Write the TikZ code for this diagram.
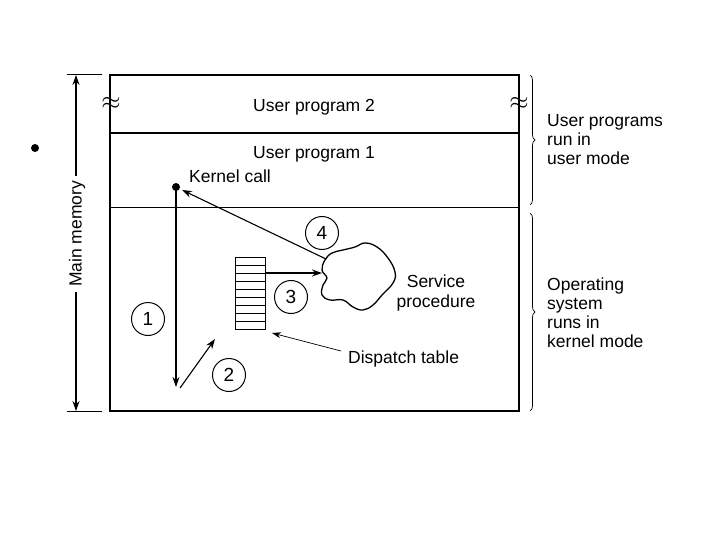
\documentclass[tikz,border=0pt]{standalone}
\usepackage{fontspec}
\setmainfont{Liberation Sans}
\usetikzlibrary{arrows.meta,decorations.pathreplacing}
\begin{document}
\begin{tikzpicture}[x=1pt,y=-1pt,
  lbl/.style={font=\fontsize{17.5}{19}\selectfont, inner sep=0pt},
  num/.style={circle, draw, line width=1pt, minimum size=33pt, inner sep=0pt, font=\fontsize{19}{20}\selectfont},
  ln/.style={line width=1pt},
  arr/.style={line width=1.1pt, -{Stealth[length=10pt,width=7pt]}},
  brc/.style={decorate, decoration={brace, amplitude=5pt}, line width=0.7pt}]
\useasboundingbox (0,0) rectangle (720,540);
% main box
\draw[line width=1.3pt] (110,75) rectangle (519,411);
\draw[line width=1.6pt] (110,133) -- (519,133);
\draw[line width=1pt] (110,208) -- (519,208);
\node[font=\fontsize{24}{24}\selectfont, inner sep=0pt] (wl) at (111,103) {$\approx$};
\node[font=\fontsize{24}{24}\selectfont, inner sep=0pt] (wr) at (519,103) {$\approx$};
% bullet
\fill (35,148) circle (4pt);
% main memory
\coordinate (mt) at (76,75);
\coordinate (mb) at (76,411);
\draw[ln] (67,75) -- (102,75);
\draw[ln] (67,411) -- (102,411);
\draw[arr] (76,234) -- (mt);
\draw[arr] (76,234) -- (mb);
\node[lbl, rotate=90, fill=white, inner sep=5pt] (mm) at (77,234) {Main memory};
% texts in box
\node[lbl, anchor=base] (up2) at (314,112) {User program 2};
\node[lbl, anchor=base] (up1) at (314,159) {User program 1};
\node[lbl, anchor=base west] (kc) at (189,183) {Kernel call};
% kernel call dot and arrow 1
\coordinate (kd) at (176,187);
\fill (kd) circle (4pt);
\coordinate (a1e) at (176,387);
\draw[arr] (kd) -- (a1e);
\node[num] (n1) at (148,319) {1};
% arrow 2
\coordinate (a2s) at (180,388);
\coordinate (a2e) at (215,339);
\draw[arr] (a2s) -- (a2e);
\node[num] (n2) at (229,375) {2};
% dispatch table
\node[draw, line width=1pt, minimum width=30pt, minimum height=72pt, inner sep=0pt] (dt) at (250,293) {};
\foreach \y in {265,273,281,289,297,305,313,321}
  \draw[line width=0.7pt] (235,\y) -- (265,\y);
% cloud
\draw[line width=1.3pt] plot[smooth cycle, tension=0.7] coordinates {
 (325,260) (332,253) (343,250) (355,247) (365,243) (377,247) (388,258) (395,272)
 (393,283) (382,295) (373,305) (363,310) (353,307) (343,300) (330,300) (322,295)
 (323,285) (327,278) (322,270)};
\coordinate (cl) at (322,273);
\coordinate (ctl) at (326,259);
\node[lbl, anchor=base] (sp1) at (436,287) {Service};
\node[lbl, anchor=base] (sp2) at (436,307) {procedure};
% arrow 3
\draw[line width=1.6pt, -{Stealth[length=10pt,width=7pt]}] (dt.east |- 0,273) -- (cl);
\node[num] (n3) at (291,297) {3};
% arrow 4
\coordinate (a4e) at (182,190);
\draw[arr] (ctl) -- (a4e);
\node[num] (n4) at (322,233) {4};
% dispatch table label
\node[lbl, anchor=base west] (dtl) at (348,363) {Dispatch table};
\coordinate (dtp) at (272,333);
\draw[line width=0.7pt, -{Stealth[length=9pt,width=6pt]}] (341,351) -- (dtp);
% braces
\draw[brc] (530,75) -- (530,205);
\draw[brc] (530,213) -- (530,411);
\node[lbl, anchor=base west] (u1) at (547,127) {User programs};
\node[lbl, anchor=base west] (u2) at (547,146) {run in};
\node[lbl, anchor=base west] (u3) at (547,165) {user mode};
\node[lbl, anchor=base west] (o1) at (547,290) {Operating};
\node[lbl, anchor=base west] (o2) at (547,309) {system};
\node[lbl, anchor=base west] (o3) at (547,328) {runs in};
\node[lbl, anchor=base west] (o4) at (547,347) {kernel mode};
\end{tikzpicture}
\end{document}
